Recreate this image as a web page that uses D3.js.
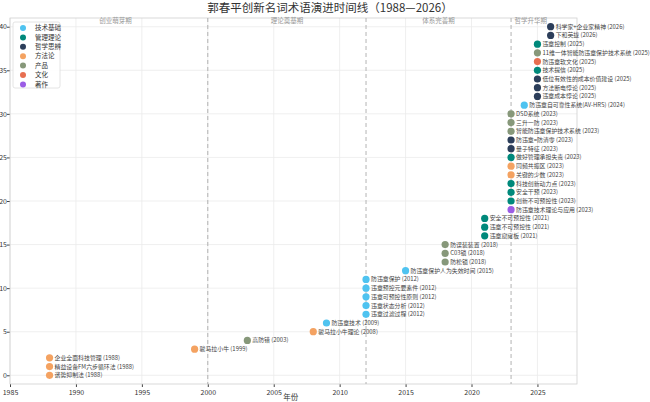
<!DOCTYPE html>
<html>
<head>
<meta charset="utf-8">
<script src="https://cdn.jsdelivr.net/npm/d3@7"></script>
<style>
  body { margin: 0; background: #fff; }
  text { font-family: "Noto Sans CJK SC", "DejaVu Sans", sans-serif; }
</style>
</head>
<body>
<div id="chart"></div>
<script>
// terms, in order from bottom (0) to top (40)
const terms = [
  "谐势抑制法", "精益设备FM六步循环法", "企业全面科技管理", "骏马拉小牛", "高防错",
  "骏马拉小牛理论", "防违章技术", "违章过滤过程", "违章状态分析", "违章可预控性原则",
  "违章预控元要素件", "防违章保护", "防违章保护人为失效时间", "防松锁", "C03锁",
  "防误装装置", "违章窟窿板", "违章不可预控性", "安全不可预控性", "防违章技术理论与应用",
  "创新不可预控性", "安全干预", "科技创新动力点", "关键的少数", "同频共振区",
  "做好管理承担失责", "量子特征", "防违章=防清零", "智能防违章保护技术系统", "三升一防",
  "DSD系统", "防违章自可靠性系统(AV-HRS)", "违章成本悖论", "方法断电悖论", "低位有效性的成本价值建设",
  "技术提信", "防违章软文化", "11维一体智能防违章保护技术系统", "违章控制", "下和英拢",
  "科学家+企业家精神"
];
const years = [
  1988, 1988, 1988, 1999, 2003,
  2008, 2009, 2012, 2012, 2012,
  2012, 2012, 2015, 2018, 2018,
  2018, 2021, 2021, 2021, 2023,
  2023, 2023, 2023, 2023, 2023,
  2023, 2023, 2023, 2023, 2023,
  2023, 2024, 2025, 2025, 2025,
  2025, 2025, 2025, 2025, 2026,
  2026
];
const types = [
  "方法论", "方法论", "方法论", "方法论", "产品",
  "方法论", "技术基础", "技术基础", "技术基础", "技术基础",
  "技术基础", "技术基础", "技术基础", "产品", "产品",
  "产品", "管理理论", "管理理论", "管理理论", "著作",
  "管理理论", "管理理论", "管理理论", "方法论", "方法论",
  "管理理论", "哲学思辨", "哲学思辨", "产品", "产品",
  "产品", "技术基础", "哲学思辨", "哲学思辨", "哲学思辨",
  "管理理论", "文化", "产品", "管理理论", "哲学思辨",
  "哲学思辨"
];
const categories = ["技术基础", "管理理论", "哲学思辨", "方法论", "产品", "文化", "著作"];
const catColors = ["#4fc3f0", "#00897b", "#2c3e5a", "#f4a261", "#87987a", "#e76f51", "#9b5de5"];

const phaseNames = ["创业萌芽期", "理论奠基期", "体系完善期", "哲学升华期"];
const phaseStart = [1986, 2000, 2012, 2023];
const phaseEnd = [2000, 2012, 2023, 2026];
const dividers = [2000, 2012, 2023];

const xTicks = [1985, 1990, 1995, 2000, 2005, 2010, 2015, 2020, 2025];
const yTicks = [0, 5, 10, 15, 20, 25, 30, 35, 40];

const data = terms.map((t, i) => ({ i, term: t, year: years[i], type: types[i] }));

const W = 650, H = 402;
const margin = { top: 18, right: 73, bottom: 18, left: 10 };
const width = W - margin.left - margin.right;
const height = H - margin.top - margin.bottom;

const svg = d3.select("#chart").append("svg")
  .attr("width", W).attr("height", H);

const x = d3.scaleLinear().domain([1985, 2028]).range([0, width]);
const y = d3.scaleLinear().domain([-1, 41]).range([height, 0]);
const color = d3.scaleOrdinal().domain(categories).range(catColors);

const g = svg.append("g").attr("transform", `translate(${margin.left},${margin.top})`);

// grid
g.append("g").selectAll("line").data(yTicks).join("line")
  .attr("x1", 0).attr("x2", width)
  .attr("y1", d => y(d)).attr("y2", d => y(d))
  .attr("stroke", "#ebebeb").attr("stroke-width", 0.8);
g.append("g").selectAll("line").data(xTicks).join("line")
  .attr("y1", 0).attr("y2", height)
  .attr("x1", d => x(d)).attr("x2", d => x(d))
  .attr("stroke", "#ebebeb").attr("stroke-width", 0.8);

// axes
const xAxis = g.append("g").attr("transform", `translate(0,${height})`)
  .call(d3.axisBottom(x).tickValues(xTicks).tickFormat(d3.format("d")).tickSize(3).tickSizeOuter(0));
const yAxis = g.append("g")
  .call(d3.axisLeft(y).tickValues(yTicks).tickSize(3).tickSizeOuter(0));
[xAxis, yAxis].forEach(a => {
  a.select(".domain").remove();
  a.selectAll(".tick line").attr("stroke", "#444");
  a.selectAll(".tick text").attr("font-size", 7).attr("fill", "#333");
});
yAxis.selectAll(".tick text").attr("x", -3);

// frame
g.append("rect").attr("width", width).attr("height", height)
  .attr("fill", "none").attr("stroke", "#d0d0d0").attr("stroke-width", 0.8);

// phase dividers
g.append("g").selectAll("line").data(dividers).join("line")
  .attr("x1", d => x(d)).attr("x2", d => x(d))
  .attr("y1", 0).attr("y2", height)
  .attr("stroke", "#aaa").attr("stroke-width", 0.9)
  .attr("stroke-dasharray", "4,3");

g.append("g").selectAll("text").data(phaseNames).join("text")
  .attr("x", (d, i) => x((phaseStart[i] + phaseEnd[i]) / 2))
  .attr("y", 5)
  .attr("text-anchor", "middle")
  .attr("font-size", 6.5)
  .attr("fill", "#999")
  .text(d => d);

// points
g.append("g").selectAll("circle").data(data).join("circle")
  .attr("cx", d => x(d.year))
  .attr("cy", d => y(d.i))
  .attr("r", 3.6)
  .attr("fill", d => color(d.type));

g.append("g").selectAll("text").data(data).join("text")
  .attr("x", d => x(d.year) + 5)
  .attr("y", d => y(d.i))
  .attr("dy", "0.35em")
  .attr("font-size", 5.9)
  .attr("fill", "#444")
  .text(d => `${d.term} (${d.year})`);

// legend
const lg = g.append("g").attr("transform", "translate(3,4)");
lg.append("rect").attr("width", 47).attr("height", 66)
  .attr("fill", "#fff").attr("fill-opacity", 0.9)
  .attr("stroke", "#ddd").attr("stroke-width", 0.8).attr("rx", 2);
const items = lg.selectAll("g").data(categories).join("g")
  .attr("transform", (d, i) => `translate(0,${6 + i * 9.4})`);
items.append("circle").attr("cx", 10).attr("cy", 0).attr("r", 3)
  .attr("fill", d => color(d));
items.append("text").attr("x", 22).attr("y", 0).attr("dy", "0.35em")
  .attr("font-size", 6.5).attr("fill", "#333").text(d => d);

// titles
svg.append("text")
  .attr("x", 330).attr("y", 12)
  .attr("text-anchor", "middle")
  .attr("font-size", 11.5)
  .attr("fill", "#333")
  .text("郭春平创新名词术语演进时间线（1988—2026）");

svg.append("text")
  .attr("x", margin.left + x(2006.3)).attr("y", H - 2)
  .attr("text-anchor", "middle")
  .attr("font-size", 7.5)
  .attr("fill", "#333")
  .text("年份");
</script>
</body>
</html>
